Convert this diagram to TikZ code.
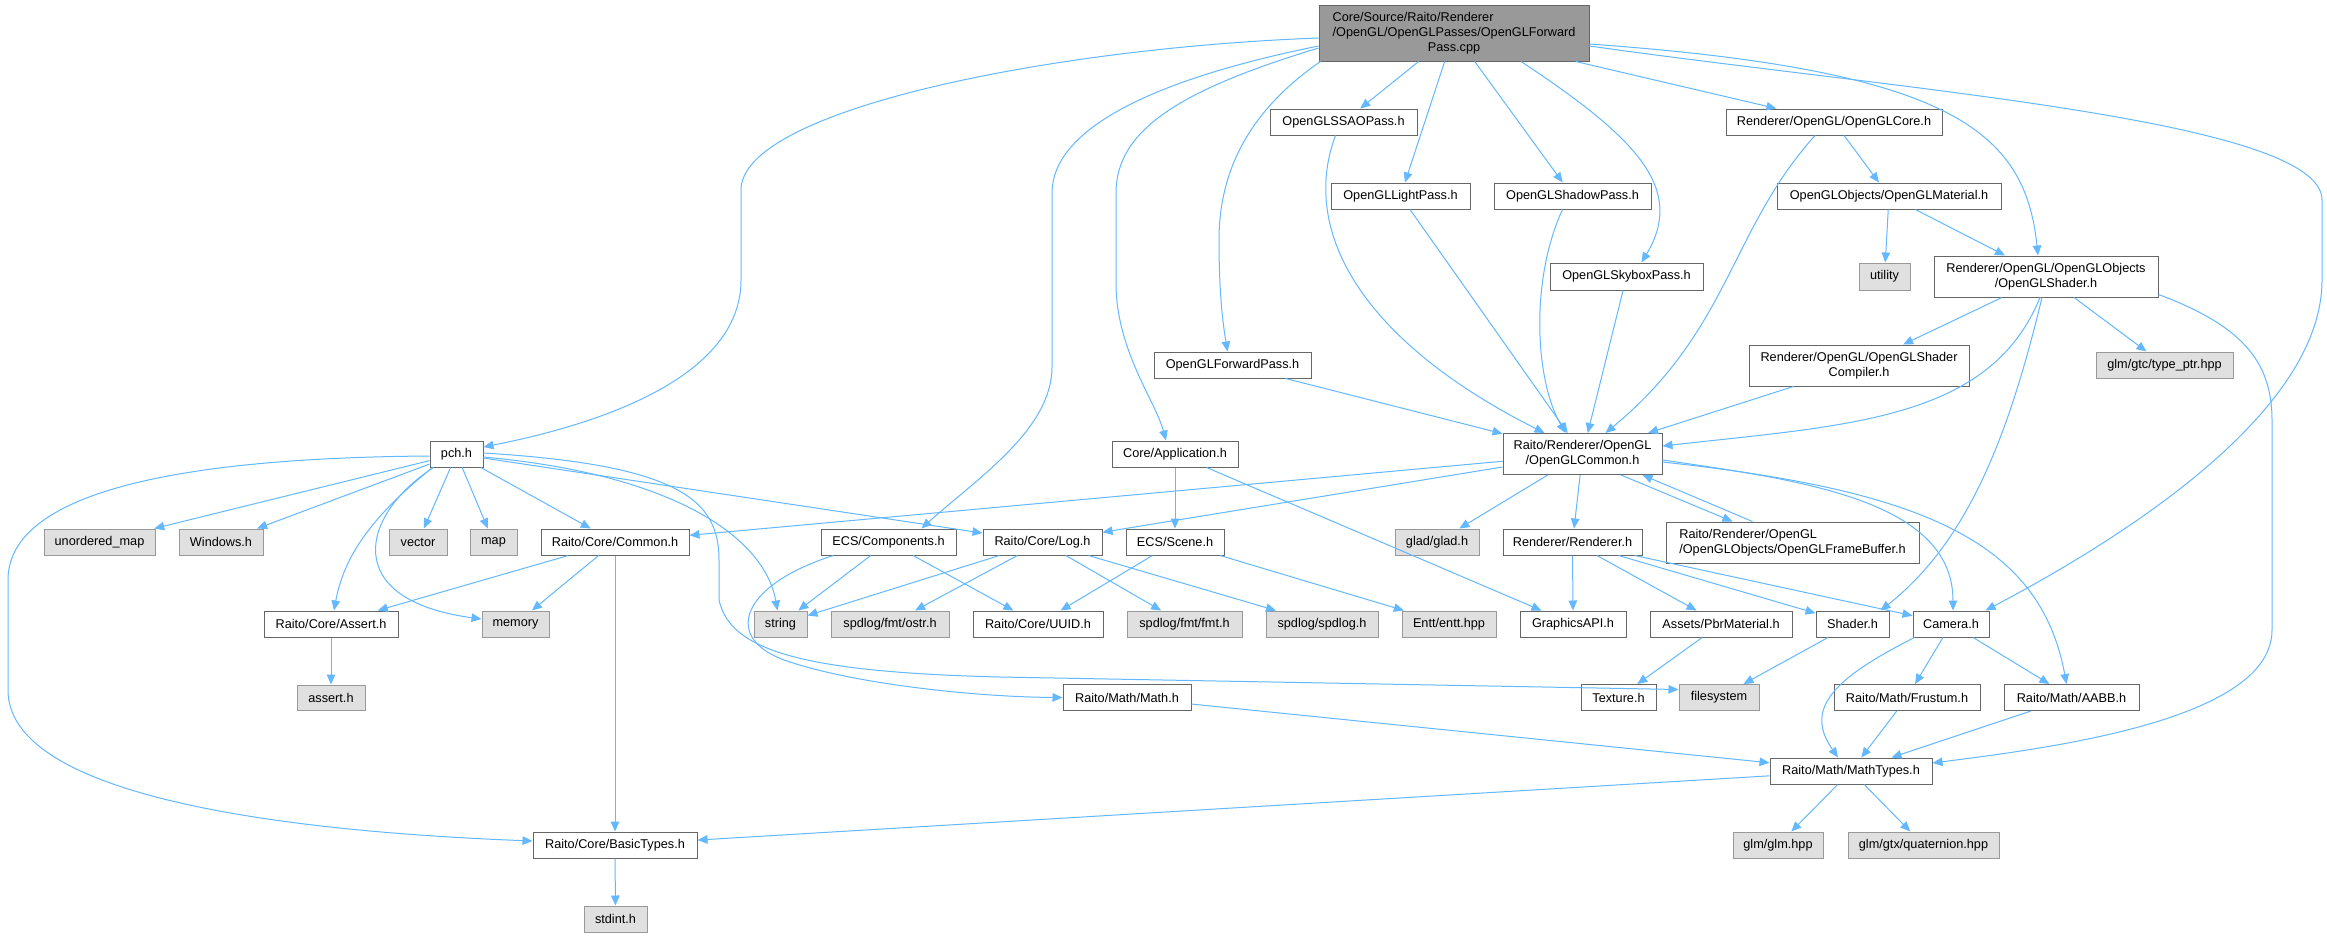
\documentclass[tikz,border=0pt]{standalone}
\usepackage{fontspec}
\setmainfont{Liberation Sans}
\usetikzlibrary{arrows.meta}
\definecolor{edgeblue}{HTML}{63B8FF}
\definecolor{grey40}{HTML}{666666}
\definecolor{grey60}{HTML}{999999}
\definecolor{grey90}{HTML}{E0E0E0}

\begin{document}
\begin{tikzpicture}[x=1pt, y=-1pt,
            every node/.style={rectangle, inner sep=0pt, text=black, font=\fontsize{12.7}{15}\selectfont},
            hdr/.style={draw=grey40, fill=white, line width=1pt},
            syshdr/.style={draw=grey60, fill=grey90, line width=1pt},
            srcfile/.style={draw=grey40, fill=grey60, line width=1pt},
            boxwh/.style 2 args={minimum width=#1pt, minimum height=#2pt},
            dep/.style={edgeblue, line width=1pt, -{Triangle[length=10pt, width=8.5pt]}}]
            \fill[white] (0,0) rectangle (2327,937);
            \useasboundingbox (0,0) rectangle (2327,937);

            \node[srcfile, boxwh={270}{56}] (fwdcpp) at (1454,33) {\begin{tabular}{@{}l@{}}Core/Source/Raito/Renderer\\/OpenGL/OpenGLPasses/OpenGLForward\\\multicolumn{1}{@{}c@{}}{Pass.cpp}\end{tabular}};
            \node[hdr, boxwh={147}{26}] (ssao)        at (1343.5,122) {OpenGLSSAOPass.h};
            \node[hdr, boxwh={139}{26}] (lightpass)   at (1400.5,196) {OpenGLLightPass.h};
            \node[hdr, boxwh={157}{26}] (shadowpass)  at (1572.5,196) {OpenGLShadowPass.h};
            \node[hdr, boxwh={153}{27}] (skyboxpass)  at (1626.5,276.5) {OpenGLSkyboxPass.h};
            \node[hdr, boxwh={157}{26}] (fwdpassh)    at (1232.5,365) {OpenGLForwardPass.h};
            \node[hdr, boxwh={216}{26}] (oglcore)     at (1834,122) {Renderer/OpenGL/OpenGLCore.h};
            \node[hdr, boxwh={224}{26}] (oglmaterial) at (1889,196) {OpenGLObjects/OpenGLMaterial.h};
            \node[syshdr, boxwh={51}{27}] (utility)   at (1884.5,276.5) {utility};
            \node[hdr, boxwh={224}{41}, align=center] (oglshader) at (2046,276.5) {Renderer/OpenGL/OpenGLObjects\\/OpenGLShader.h};
            \node[hdr, boxwh={220}{41}, align=center] (shadercomp) at (1859,365.5) {Renderer/OpenGL/OpenGLShader\\Compiler.h};
            \node[syshdr, boxwh={137}{26}] (typeptr)  at (2164.5,365) {glm/gtc/type\_ptr.hpp};

            \node[hdr, boxwh={53}{26}]  (pch)         at (456.5,454) {pch.h};
            \node[hdr, boxwh={126}{26}] (application) at (1175,454) {Core/Application.h};
            \node[hdr, boxwh={159}{41}, align=center] (oglcommon) at (1582.5,454) {Raito/Renderer/OpenGL\\/OpenGLCommon.h};

            \node[syshdr, boxwh={111}{26}] (umap)     at (99.5,542) {unordered\_map};
            \node[syshdr, boxwh={84}{26}]  (windows)  at (221,542) {Windows.h};
            \node[syshdr, boxwh={58}{26}]  (vector)   at (418,542) {vector};
            \node[syshdr, boxwh={47}{26}]  (map)      at (493.5,542) {map};
            \node[hdr, boxwh={148}{26}] (common)      at (615,542) {Raito/Core/Common.h};
            \node[hdr, boxwh={135}{26}] (components)  at (888.5,542) {ECS/Components.h};
            \node[hdr, boxwh={119}{26}] (log)         at (1042.5,542) {Raito/Core/Log.h};
            \node[hdr, boxwh={98}{26}]  (scene)       at (1175,542) {ECS/Scene.h};
            \node[syshdr, boxwh={84}{26}]  (glad)     at (1437,542) {glad/glad.h};
            \node[hdr, boxwh={139}{26}] (renderer)    at (1572.5,542) {Renderer/Renderer.h};
            \node[hdr, boxwh={253}{41}, align=left] (framebuffer) at (1792.5,542.5) {Raito/Renderer/OpenGL\\/OpenGLObjects/OpenGLFrameBuffer.h};

            \node[hdr, boxwh={134}{26}] (assert)      at (331,624) {Raito/Core/Assert.h};
            \node[syshdr, boxwh={67}{26}]  (memory)   at (515.5,624) {memory};
            \node[syshdr, boxwh={53}{26}]  (string)   at (780.5,624) {string};
            \node[syshdr, boxwh={118}{26}] (ostr)     at (890,624) {spdlog/fmt/ostr.h};
            \node[hdr, boxwh={130}{26}] (uuid)        at (1038,624) {Raito/Core/UUID.h};
            \node[syshdr, boxwh={115}{26}] (fmt)      at (1184.5,624) {spdlog/fmt/fmt.h};
            \node[syshdr, boxwh={112}{26}] (spdlog)   at (1322,624) {spdlog/spdlog.h};
            \node[syshdr, boxwh={94}{26}]  (entt)     at (1449,624) {Entt/entt.hpp};
            \node[hdr, boxwh={106}{26}] (graphicsapi) at (1573,624) {GraphicsAPI.h};
            \node[hdr, boxwh={142}{26}] (pbrmaterial) at (1721,624) {Assets/PbrMaterial.h};
            \node[hdr, boxwh={73}{26}]  (shader)      at (1852.5,624) {Shader.h};
            \node[hdr, boxwh={76}{26}]  (camera)      at (1951,624) {Camera.h};

            \node[syshdr, boxwh={68}{25}]  (asserth)  at (331,697.5) {assert.h};
            \node[hdr, boxwh={128}{26}] (math)        at (1127,697.5) {Raito/Math/Math.h};
            \node[hdr, boxwh={75}{26}]  (texture)     at (1618.5,697.5) {Texture.h};
            \node[syshdr, boxwh={80}{26}]  (filesystem) at (1719,697.5) {filesystem};
            \node[hdr, boxwh={146}{26}] (frustum)     at (1907,697.5) {Raito/Math/Frustum.h};
            \node[hdr, boxwh={135}{26}] (aabb)        at (2071.5,697.5) {Raito/Math/AABB.h};
            \node[hdr, boxwh={162}{26}] (mathtypes)   at (1851,771) {Raito/Math/MathTypes.h};

            \node[hdr, boxwh={164}{26}] (basictypes)  at (615,845) {Raito/Core/BasicTypes.h};
            \node[syshdr, boxwh={90}{26}]  (glm)      at (1778,845) {glm/glm.hpp};
            \node[syshdr, boxwh={151}{26}] (quaternion) at (1923.5,845) {glm/gtx/quaternion.hpp};
            \node[syshdr, boxwh={63}{26}]  (stdint)   at (615.5,919) {stdint.h};

            \path[dep]  (fwdcpp) edge (ssao)
                        (fwdcpp) edge (lightpass)
                        (fwdcpp) edge (shadowpass)
                        (fwdcpp) edge (oglcore)
                        (oglcore) edge (oglmaterial)
                        (oglmaterial) edge (utility)
                        (oglmaterial) edge (oglshader)
                        (oglshader) edge (shadercomp)
                        (oglshader) edge (typeptr)
                        (fwdpassh) edge (oglcommon)
                        (lightpass) edge (oglcommon)
                        (skyboxpass) edge (oglcommon)
                        (shadercomp) edge (oglcommon)
                        (oglcommon) edge (common)
                        (oglcommon) edge (log)
                        (oglcommon) edge (glad)
                        (oglcommon) edge (renderer)
                        ([xshift=38.5pt]oglcommon.south) edge ([xshift=-60pt]framebuffer.north)
                        ([xshift=-40pt]framebuffer.north) edge ([xshift=60pt]oglcommon.south)
                        (pch) edge (umap)
                        (pch) edge (windows)
                        (pch) edge (vector)
                        (pch) edge (map)
                        (pch) edge (common)
                        (pch) edge (log)
                        (common) edge (assert)
                        (common) edge (memory)
                        (common) edge (basictypes)
                        (assert) edge (asserth)
                        (basictypes) edge (stdint)
                        (application) edge (scene)
                        (application) edge (graphicsapi)
                        (components) edge (string)
                        (components) edge (uuid)
                        (log) edge (string)
                        (log) edge (ostr)
                        (log) edge (fmt)
                        (log) edge (spdlog)
                        (scene) edge (uuid)
                        (scene) edge (entt)
                        (renderer) edge (graphicsapi)
                        (renderer) edge (pbrmaterial)
                        (renderer) edge (shader)
                        (renderer) edge (camera)
                        (pbrmaterial) edge (texture)
                        (shader) edge (filesystem)
                        (camera) edge (frustum)
                        (camera) edge (aabb)
                        (frustum) edge (mathtypes)
                        (aabb) edge (mathtypes)
                        (math) edge (mathtypes)
                        (mathtypes) edge (glm)
                        (mathtypes) edge (quaternion)
                        (mathtypes) edge (basictypes);

            \draw[dep] ([yshift=-5pt]fwdcpp.west) .. controls (1050,48) and (741,110) .. (741,190) -- (741,280)
                        .. controls (741,370) and (620,420) .. ([yshift=7pt]pch.east);
            \draw[dep] ([yshift=-13pt]fwdcpp.west) .. controls (1150,80) and (1052,130) .. (1052,193) -- (1052,367)
                        .. controls (1052,430) and (975,480) .. ([xshift=33pt]components.north);
            \draw[dep] ([yshift=-15pt]fwdcpp.west) .. controls (1180,90) and (1116,130) .. (1116,193) -- (1116,283)
                        .. controls (1116,350) and (1155,400) .. ([xshift=-9pt]application.north);
            \draw[dep] ([xshift=2pt]fwdcpp.south west) .. controls (1250,110) and (1219,170) .. (1219,240)
                        .. controls (1219,300) and (1224,330) .. ([xshift=-5pt]fwdpassh.north);
            \draw[dep] ([xshift=67pt]fwdcpp.south) .. controls (1640,140) and (1685,190) .. ([xshift=15pt]skyboxpass.north);
            \draw[dep] ([yshift=-11pt]fwdcpp.east) .. controls (1950,70) and (2025,130) .. ([xshift=-8pt]oglshader.north);
            \draw[dep] ([yshift=-13pt]fwdcpp.east) .. controls (1900,90) and (2322,120) .. (2322,200) -- (2322,280)
                        .. controls (2322,420) and (2100,550) .. ([xshift=-4pt]camera.north east);
            \draw[dep] ([xshift=-8pt]ssao.south) .. controls (1300,230) and (1360,340) .. ([xshift=-38pt]oglcommon.north);
            \draw[dep] ([xshift=-10pt]shadowpass.south) .. controls (1530,280) and (1535,380) .. ([xshift=-17pt]oglcommon.north);
            \draw[dep] ([xshift=-19pt]oglcore.south) .. controls (1730,230) and (1730,330) .. ([xshift=23pt]oglcommon.north);
            \draw[dep] ([xshift=-6pt]oglshader.south) .. controls (1990,420) and (1850,425) .. ([yshift=8pt]oglcommon.east);
            \draw[dep] ([xshift=-4pt]oglshader.south) .. controls (2010,430) and (1970,540) .. ([xshift=28pt]shader.north);
            \draw[dep] ([yshift=-18pt]oglshader.east) .. controls (2240,325) and (2272,360) .. (2272,420) -- (2272,630)
                        .. controls (2272,720) and (2050,748) .. ([yshift=8pt]mathtypes.east);
            \draw[dep] ([yshift=-6pt]oglcommon.east) .. controls (1800,480) and (1953,500) .. ([xshift=2pt]camera.north);
            \draw[dep] ([yshift=-8pt]oglcommon.east) .. controls (1920,490) and (2040,540) .. ([xshift=-5pt]aabb.north);
            \draw[dep] ([xshift=3pt]pch.south west) .. controls (380,510) and (345,550) .. ([xshift=3pt]assert.north);
            \draw[dep] ([xshift=4pt]pch.south west) .. controls (360,515) and (340,600) .. ([yshift=5pt]memory.west);
            \draw[dep] ([yshift=-3pt]pch.east) .. controls (680,475) and (765,540) .. ([xshift=-3pt]string.north);
            \draw[dep] ([yshift=1pt]pch.east) .. controls (680,465) and (719,500) .. (719,560) -- (719,600)
                        .. controls (730,650) and (800,672) .. (1000,677) -- ([yshift=8pt]filesystem.west);
            \draw[dep] ([yshift=-2pt]pch.west) .. controls (150,458) and (8,500) .. (8,580) -- (8,690)
                        .. controls (8,790) and (250,830) .. ([yshift=4pt]basictypes.west);
            \draw[dep] ([xshift=13pt]components.south west) .. controls (740,585) and (720,640) .. (790,662)
                        .. controls (860,685) and (980,697) .. (math.west);
            \draw[dep] ([xshift=2pt]camera.south west) .. controls (1830,680) and (1805,710) .. ([xshift=-13pt]mathtypes.north);
        \end{tikzpicture}
\end{document}
